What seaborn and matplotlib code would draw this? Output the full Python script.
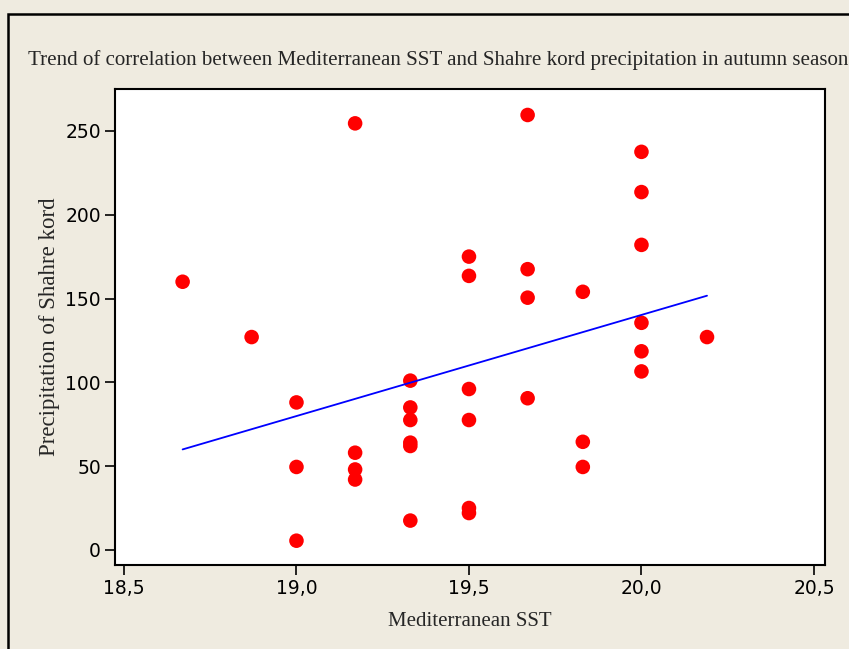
import numpy as np
import pandas as pd
import matplotlib
matplotlib.use('Agg')
import matplotlib.pyplot as plt
import seaborn as sns
from matplotlib.patches import Rectangle
from matplotlib.ticker import FuncFormatter

sst = [18.67, 18.87,
       19.0, 19.0, 19.0,
       19.17, 19.17, 19.17, 19.17,
       19.33, 19.33, 19.33, 19.33, 19.33, 19.33,
       19.5, 19.5, 19.5, 19.5, 19.5, 19.5,
       19.67, 19.67, 19.67, 19.67,
       19.83, 19.83, 19.83,
       20.0, 20.0, 20.0, 20.0, 20.0, 20.0,
       20.19]
precip = [160, 127,
          88, 49.5, 5.5,
          254.5, 58, 48, 42,
          101, 85, 77.5, 64, 62, 17.5,
          175, 163.5, 96, 77.5, 25, 22,
          259.5, 167.5, 150.5, 90.5,
          154, 64.5, 49.5,
          237.5, 213.5, 182, 135.5, 118.5, 106.5,
          127]

data = pd.DataFrame({'sst': sst, 'precip': precip})

sns.set_style('ticks')
plt.rcParams['font.family'] = ['DejaVu Sans']

fig = plt.figure(figsize=(8.49, 6.49), dpi=100)
fig.patch.set_facecolor('#efebe0')
ax = fig.add_axes([115/849, 1-565/649, 710/849, 476/649])
ax.set_facecolor('white')

sns.regplot(x='sst', y='precip', data=data, ax=ax, ci=None, truncate=True,
            scatter_kws={'color': '#ff0000', 's': 110, 'edgecolor': 'none', 'alpha': 1},
            line_kws={'color': '#0000ff', 'lw': 1.3})

ax.set_xlim(18.474, 20.532)
ax.set_ylim(-9, 275)
ax.set_xticks([18.5, 19.0, 19.5, 20.0, 20.5])
ax.set_yticks([0, 50, 100, 150, 200, 250])
ax.xaxis.set_major_formatter(FuncFormatter(lambda v, p: f'{v:.1f}'.replace('.', ',')))
ax.tick_params(direction='out', length=7, width=1.2, labelsize=13.5, colors='black', pad=3)
for s in ax.spines.values():
    s.set_visible(True)
    s.set_linewidth(1.5)
    s.set_color('black')

serif = ['Liberation Serif', 'DejaVu Serif']
ax.set_xlabel('Mediterranean SST', family=serif, fontsize=15, labelpad=10)
ax.set_ylabel('Precipitation of Shahre kord', family=serif, fontsize=16.5, labelpad=4)
fig.text(28/849, 1-60/649, 'Trend of correlation between Mediterranean SST and Shahre kord precipitation in autumn season',
         family=serif, fontsize=15.1, va='center', ha='left')

fig.patches.append(Rectangle((8/849, -0.1), 1.2, 1-14/649+0.1, transform=fig.transFigure,
                             fill=False, edgecolor='black', lw=1.8))

fig.savefig('out.png', dpi=100, facecolor=fig.get_facecolor())
